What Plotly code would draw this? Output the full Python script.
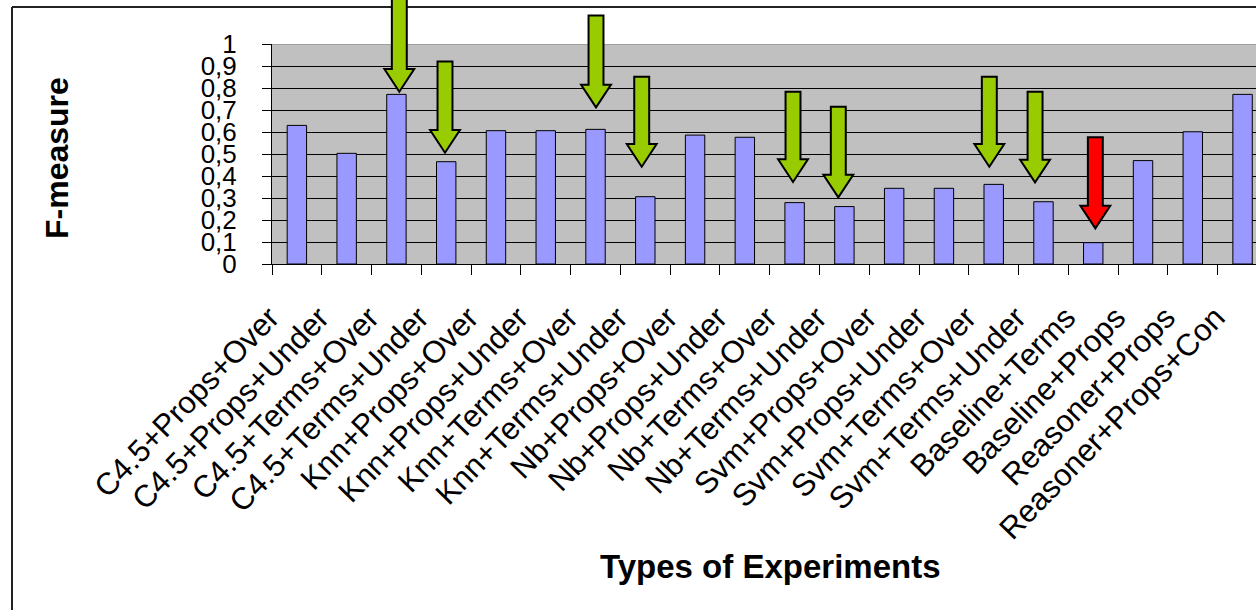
import plotly.graph_objects as go

# ---------------- data ----------------
categories = [
    "C4.5+Props+Over", "C4.5+Props+Under", "C4.5+Terms+Over", "C4.5+Terms+Under",
    "Knn+Props+Over", "Knn+Props+Under", "Knn+Terms+Over", "Knn+Terms+Under",
    "Nb+Props+Over", "Nb+Props+Under", "Nb+Terms+Over", "Nb+Terms+Under",
    "Svm+Props+Over", "Svm+Props+Under", "Svm+Terms+Over", "Svm+Terms+Under",
    "Baseline+Terms", "Baseline+Props", "Reasoner+Props", "Reasoner+Props+Con",
]
fmeasure = [0.630, 0.503, 0.771, 0.465, 0.606, 0.606, 0.612, 0.306, 0.586, 0.576,
            0.279, 0.261, 0.344, 0.344, 0.362, 0.283, 0.097, 0.470, 0.601, 0.771]

y_tick_values = [0, 0.1, 0.2, 0.3, 0.4, 0.5, 0.6, 0.7, 0.8, 0.9, 1]
y_tick_labels = ["0", "0,1", "0,2", "0,3", "0,4", "0,5", "0,6", "0,7", "0,8", "0,9", "1"]

# highlight arrows: category position, tip value, tail value, colour
arrow_x = [2.058, 2.976, 6.010, 6.928, 9.968, 10.878, 13.912, 14.831, 16.042]
arrow_tip = [0.783, 0.506, 0.712, 0.442, 0.373, 0.303, 0.442, 0.371, 0.162]
arrow_tail = [1.22, 0.920, 1.129, 0.851, 0.783, 0.715, 0.851, 0.783, 0.576]
arrow_color = ["#99CC00"] * 8 + ["#FF0000"]

# ---------------- layout constants ----------------
W, H = 1256, 610
PL, PT, PB = 272, 44, 264          # plot area left / top / bottom (px)
PW = W - PL
PHt = PB - PT
X_RANGE = [-0.5, 19.27]
FONT = "Arial, 'Liberation Sans', sans-serif"

def px_x(p):
    return (p - PL) / PW

def px_y(p):
    return (PB - p) / PHt

SHAFT_HALF = 0.15
HEAD_HALF = 0.30
HEAD_LEN = 0.103

fig = go.Figure()
fig.add_trace(go.Bar(
    x=categories, y=fmeasure, width=0.39,
    marker=dict(color="#9999FF", line=dict(color="#000000", width=1)),
    hoverinfo="x+y",
))

shapes = []
# outer chart frame (top + left, extends off-page)
shapes.append(dict(type="line", xref="paper", yref="paper",
                   x0=px_x(12), x1=px_x(W + 5), y0=px_y(7), y1=px_y(7),
                   line=dict(color="#222222", width=2), layer="above"))
shapes.append(dict(type="line", xref="paper", yref="paper",
                   x0=px_x(12), x1=px_x(12), y0=px_y(7), y1=px_y(H + 5),
                   line=dict(color="#222222", width=2), layer="above"))
# lighter top edge of the plot area
shapes.append(dict(type="line", xref="paper", yref="y",
                   x0=0, x1=1, y0=1, y1=1,
                   line=dict(color="#808080", width=1), layer="above"))

for xc, tip, tail, col in zip(arrow_x, arrow_tip, arrow_tail, arrow_color):
    base = tip + HEAD_LEN
    pts = [
        (xc - SHAFT_HALF, tail), (xc + SHAFT_HALF, tail), (xc + SHAFT_HALF, base),
        (xc + HEAD_HALF, base), (xc, tip), (xc - HEAD_HALF, base), (xc - SHAFT_HALF, base),
    ]
    path = "M " + " L ".join(f"{a:.4f},{b:.4f}" for a, b in pts) + " Z"
    shapes.append(dict(type="path", xref="x", yref="paper", path=path,
                       fillcolor=col, line=dict(color="#000000", width=2),
                       layer="above"))

annotations = [
    dict(text="<b>F-measure</b>", xref="paper", yref="paper",
         x=px_x(57), y=px_y(158), xanchor="center", yanchor="middle",
         textangle=-90, showarrow=False,
         font=dict(family=FONT, size=32, color="#000000")),
    dict(text="<b>Types of Experiments</b>", xref="paper", yref="paper",
         x=px_x(770), y=px_y(567), xanchor="center", yanchor="middle",
         showarrow=False, font=dict(family=FONT, size=33, color="#000000")),
]

fig.update_layout(
    width=W, height=H,
    margin=dict(l=PL, r=0, t=PT, b=H - PB, pad=0),
    plot_bgcolor="#C0C0C0", paper_bgcolor="#FFFFFF",
    showlegend=False,
    font=dict(family=FONT, color="#000000"),
    shapes=shapes, annotations=annotations,
    xaxis=dict(type="category", range=X_RANGE, tickson="boundaries",
               ticks="outside", ticklen=10, tickcolor="#000000", tickwidth=1,
               showline=True, linecolor="#000000", linewidth=1,
               showgrid=False, tickangle=-46, automargin=False,
               ticklabelshift=-27, ticklabelstandoff=22,
               tickfont=dict(family=FONT, size=31, color="#000000")),
    yaxis=dict(range=[0, 1], tickvals=y_tick_values, ticktext=y_tick_labels,
               ticks="outside", ticklen=9, tickcolor="#000000", tickwidth=1,
               showline=True, linecolor="#000000", linewidth=1,
               showgrid=True, gridcolor="#000000", gridwidth=1,
               zeroline=False, automargin=False, ticklabelstandoff=20,
               tickfont=dict(family=FONT, size=26, color="#000000")),
)

fig.write_html(
    "out.html",
    config={"displayModeBar": False},
    post_script="document.body.style.margin='0';document.body.style.overflow='hidden';",
)
